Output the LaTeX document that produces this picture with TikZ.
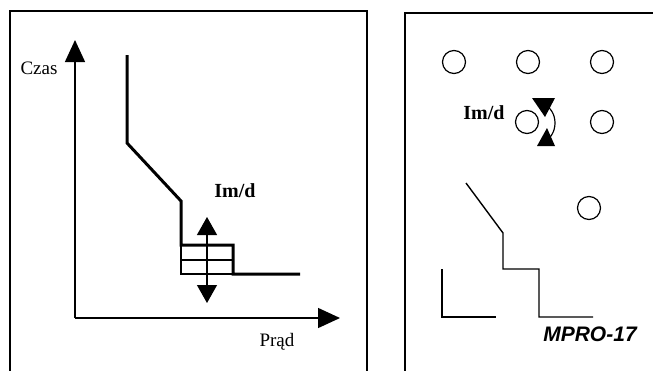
\documentclass[tikz,border=0pt]{standalone}
\usepackage{fontspec}
\setmainfont{Liberation Serif}
\newfontfamily\arialfont{Liberation Sans}
\usetikzlibrary{arrows.meta}
\usetikzlibrary{positioning}

\begin{document}
\begin{tikzpicture} [
        x = 1pt,
        y = -1pt,
        every node/.style = {
          align = center,
          inner sep = 0pt,
        },
        frame/.style = {
          draw,
          line width = 1.3pt,
        },
        axis/.style = {
          draw,
          line width = 1.4pt,
          -{Triangle[width=20pt,length=22pt]},
        },
        curve/.style = {
          draw,
          line width = 3pt,
          line join = miter,
        },
        gridline/.style = {
          draw,
          line width = 1.3pt,
        },
        shiftarrow/.style = {
          draw,
          line width = 1.2pt,
          {Triangle[width=20pt,length=18pt]}-{Triangle[width=20pt,length=18pt]},
        },
        knob/.style = {
          draw,
          circle,
          line width = 1.2pt,
          minimum size = 23pt,
        },
        panel/.style = {
          draw,
          line width = 1.4pt,
        },
        txt/.style = {
          font = \fontsize{19}{19}\selectfont,
        },
        bold/.style = {
          font = \fontsize{20}{20}\selectfont\bfseries,
        },
      ]

    \useasboundingbox (0,0) rectangle (653,370);

    % frames
    \draw[frame] (10,372) -- (10,11) -- (367,11) -- (367,372);
    \draw[frame] (405,372) -- (405,13) -- (656,13);

    % time-current chart
    \coordinate (origin) at (75,318);
    \coordinate (yTip) at (75,40);
    \coordinate (xTip) at (340,318);
    \draw[axis] (origin) -- (yTip);
    \draw[axis] (origin) -- (xTip);
    \node [txt] (czas) at (39,68) {Czas};
    \node [txt] (prad) at (277,342) {Prąd};

    \coordinate (c1) at (127,55);
    \coordinate (c2) at (127,143);
    \coordinate (c3) at (181,201);
    \coordinate (c4) at (181,245);
    \coordinate (c5) at (233,245);
    \coordinate (c6) at (233,274);
    \coordinate (c7) at (300,274);
    \draw[curve] (c1) -- (c2) -- (c3) -- (c4) -- (c5) -- (c6) -- (c7);

    \draw[gridline] (c4) -- (181,274) -- (c6);
    \draw[gridline] (181,260) -- (233,260);
    \coordinate (shiftTop) at (207,217);
    \coordinate (shiftBot) at (207,303);
    \draw[shiftarrow] (shiftTop) -- (shiftBot);
    \node [bold] (imdChart) at (235,191) {Im/d};

    % front panel
    \foreach \x [count=\i] in {454,528,602}
      \node [knob] (k\i) at (\x,62) {};
    \node [knob] (k4) at (527,122) {};
    \node [knob] (k5) at (602,122) {};
    \node [knob] (k6) at (589,208) {};
    \node [bold] (imdPanel) at (484,113) {Im/d};

    \coordinate (arcTop) at (543,104);
    \coordinate (arcBot) at (543,142);
    \draw[line width=1.2pt] (arcTop) .. controls (559,110) and (559,136) .. (arcBot);
    \fill (532,98) -- (555,98) -- (545,117) -- cycle;
    \fill (537,146) -- (555,146) -- (547,128) -- cycle;

    \coordinate (p1) at (466,183);
    \coordinate (p2) at (503,233);
    \coordinate (p3) at (503,269);
    \coordinate (p4) at (539,269);
    \coordinate (p5) at (539,317);
    \coordinate (p6) at (593,317);
    \draw[panel] (p1) -- (p2) -- (p3) -- (p4) -- (p5) -- (p6);
    \draw[panel] (442,269) -- (442,317) -- (496,317);

    \node [font=\fontsize{21}{21}\selectfont\arialfont\bfseries\itshape] (model) at (590,334) {MPRO-17};
  \end{tikzpicture}
\end{document}
